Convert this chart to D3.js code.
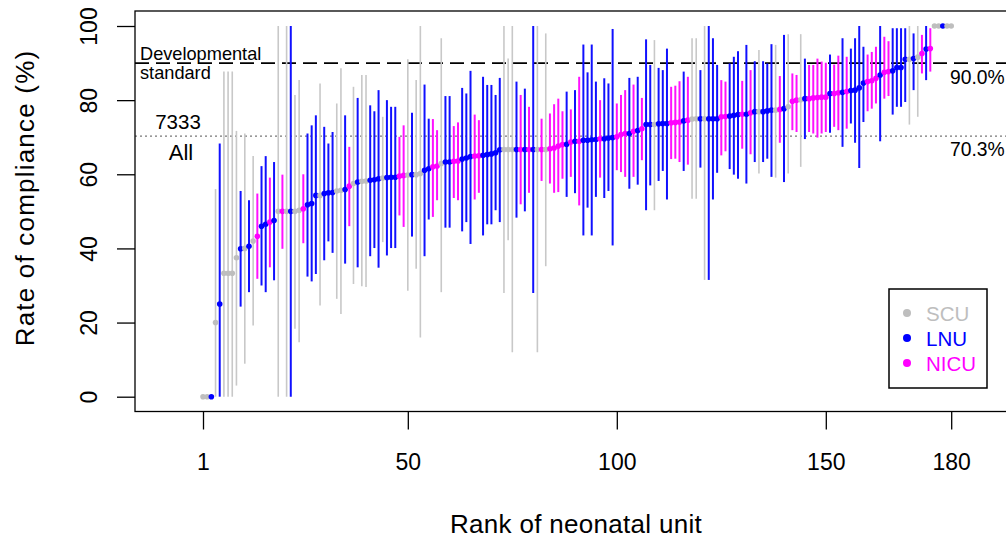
<!DOCTYPE html>
<html><head><meta charset="utf-8">
<script src="https://cdn.jsdelivr.net/npm/d3@7"></script>
<style>
html,body{margin:0;padding:0;background:#fff;}
svg{display:block;font-family:"Liberation Sans",Arial,Helvetica,sans-serif;}
</style></head>
<body>
<svg id="chart" width="1006" height="540"></svg>
<script>
// Unit type per rank: S = SCU, L = LNU, N = NICU
const unitType = ["S","S","L","S","L","S","S","S","S","L",
"S","L","S","N","L","L","N","L","S","N",
"S","L","S","S","N","L","L","L","S","L",
"L","L","S","S","L","N","S","L","S","S",
"L","L","L","S","L","L","L","N","N","S",
"L","S","S","L","L","N","N","S","L","L",
"N","N","L","L","L","N","N","L","L","L",
"L","L","S","S","S","L","N","L","N","L",
"S","N","S","N","N","N","N","L","N","L",
"N","L","L","L","L","N","L","L","L","N",
"N","N","L","N","L","N","L","L","S","L",
"L","L","N","N","N","L","N","S","S","L",
"S","L","L","L","N","N","L","L","L","N",
"L","N","L","S","L","L","L","S","N","L",
"S","N","N","S","L","N","N","N","N","N",
"L","N","N","L","N","L","L","L","L","N",
"N","N","L","N","N","L","L","L","L","S",
"L","S","N","L","N","S","S","L","S","S"];

// Rate of compliance (%) per rank
const rate = [0,0,0,20,25,33.3,33.3,33.3,37.5,39.9,
40,40.6,42,43.3,46,46.5,47.1,47.5,50,50,
50,50,50,50.3,50.7,51.8,52.1,54.3,54.3,54.8,
55,55.1,55.5,55.7,55.9,56.8,57.5,57.9,58.1,58.2,
58.4,58.5,58.8,59,59.1,59.2,59.2,59.5,59.7,59.8,
59.9,59.9,60.2,61.1,61.5,62,62.2,62.9,63.3,63.3,
63.5,63.6,64.1,64.4,64.8,64.9,65,65.1,65.3,65.5,
65.8,66.6,66.7,66.7,66.7,66.7,66.7,66.7,66.7,66.7,
66.7,66.7,66.7,66.9,67.1,67.6,68,68.1,68.7,68.9,
68.9,69.2,69.2,69.3,69.4,69.6,69.6,69.8,69.9,70.1,
70.7,71,71,71.6,71.8,72.3,73.4,73.4,73.4,73.6,
73.7,73.7,73.9,74,74.1,74.4,74.6,74.9,75,75,
75,75,75,75,75.5,75.6,75.7,75.9,76.1,76.2,
76.2,76.6,76.9,76.9,76.9,77.1,77.3,77.3,77.5,77.7,
78.2,79.7,80,80.1,80.4,80.4,80.6,80.7,80.8,80.8,
81.8,81.8,82,82.1,82.3,82.6,82.7,83.3,84.6,85,
85.2,85.9,86.8,87.5,87.7,87.9,88.8,88.8,91,91,
91.2,91.6,92.6,93.8,93.9,100,100,100,100,100];

// Lower confidence limit (%) per rank (null = not drawn)
const lower = [null,null,null,0,0,0,0,0,3,24.3,
8.9,28.2,19.2,31.8,30,28.2,34.9,31.4,0,39.9,
0,0,18.3,14.7,41.4,32.4,31.1,33.1,24.6,36.8,
41.9,38.8,26.4,22.3,35.9,46,30.4,34.9,29.8,29.6,
37.9,40.1,34.8,41.7,38.1,40.1,40.1,48.9,45.8,28.6,
43.2,34.5,16,37.9,47.8,48.5,53,28.2,45.6,45.6,
53.6,53,44.6,47.1,41.2,53.2,55,43.5,46.5,46.5,
50.3,47.1,28,42.2,12,48.3,51.9,50,55,28,
12,58.2,35.2,57.5,55,55.2,58.8,53.9,59.3,54.9,
51.6,43.5,51,43.5,53.9,59.1,53.6,55.5,40.8,61.1,
60.6,59.3,56.1,59.3,57.2,63.8,50.3,57,50.3,58.2,
60.9,53.2,64.1,64.2,63.3,60.9,62.6,53.4,53.4,61.8,
31.5,31.5,53.2,60.4,65.1,66.2,61.4,59.9,58.8,66.9,
57.5,65.4,63.3,60.2,63.3,64.2,59.3,59.1,68.5,57.9,
60.2,71.9,71.4,62,69.5,71.4,71,69.9,71,71.4,
71.2,72.8,71.9,67.4,72.3,73.7,68.5,61.7,74.1,77,
77.7,79.1,68.9,80.4,81.1,76.1,78.2,78.2,79.5,73.4,
82.7,75.5,87.2,85.4,87.7,null,null,null,null,null];

// Upper confidence limit (%) per rank (null = not drawn)
const upper = [null,null,null,56,68.3,87.7,87.7,87.7,71.7,55.5,
71,53,64.9,54.8,62.2,64.9,59.1,63.3,100,59.9,
100,100,81.4,85.4,60,71,73.2,75.9,84.5,72.8,
68.3,71.4,79.1,88.6,75.9,67.4,83.6,80.6,86.8,86.8,
78.6,77,82.7,75.5,80,78.2,78.2,70.1,73.2,91,
76.6,85.4,100,84.2,75,74.9,71.9,96.7,81.1,81.1,
73,74,83.3,81.8,87.9,76.1,74.6,86.3,84.1,84.1,
81.4,86,100,91.2,100,85,81.4,83.1,78.2,100,
100,75,98,76.4,78.9,80.4,77,82.3,77.5,82.7,
86.3,95,87.5,95,85,80,85.9,84.5,99.2,79.1,
81.4,82.7,86,84.2,86.3,80.6,96.4,89.5,96.2,88.7,
88.1,93.9,83.6,83.9,85.1,87.7,86.3,96.7,96.7,88.1,
100,100,96.7,89.5,85.4,85,89.9,91.7,93.2,85.2,
94.9,88.1,90.5,93.5,90.5,89.9,95.1,94.9,86.5,97.6,
97.8,87.2,86.8,97.8,91.2,89.5,89.5,91.2,90.4,90.1,
92.3,89.6,92,96.7,91.7,93.9,96.7,100,94.4,92.3,
93,94.4,100,97.1,95.9,99.4,99.4,99.4,99.4,100,
98,100,97.6,100,99.4,null,null,null,null,null];

const categories = ["SCU","LNU","NICU"];
const categoryCode = {S:"SCU", L:"LNU", N:"NICU"};
const xTicks = [1,50,100,150,180];
const yTicks = [0,20,40,60,80,100];
const standardValue = 90.0;
const overallValue = 70.3;
const overallCount = "7333";

const dotColor = {SCU:"#bebebe", LNU:"#0000ff", NICU:"#ff00ff"};
const lineColor = {SCU:"#c8c8c8", LNU:"#1010ff", NICU:"#ff10ff"};

const units = rate.map((v,i)=>({rank:i+1, type:categoryCode[unitType[i]], v, lo:lower[i], hi:upper[i]}));

const svg = d3.select("#chart");
svg.append("rect").attr("width",1006).attr("height",540).attr("fill","#fff");

const x = d3.scaleLinear().domain([1,180]).range([203,951.2]);
const y = d3.scaleLinear().domain([0,100]).range([396.7,26]);
const boxL = 135, boxT = 11, boxB = 411.5, boxR = 1040;

// reference lines
svg.append("line").attr("x1",boxL).attr("x2",boxR)
  .attr("y1",y(standardValue)).attr("y2",y(standardValue))
  .attr("stroke","#000").attr("stroke-width",1.8).attr("stroke-dasharray","14 7");
svg.append("line").attr("x1",boxL).attr("x2",boxR)
  .attr("y1",y(overallValue)).attr("y2",y(overallValue))
  .attr("stroke","#555").attr("stroke-width",1).attr("stroke-dasharray","2 3");

// CIs
const g = svg.append("g");
g.selectAll("line.ci").data(units.filter(d=>d.lo!==null)).enter().append("line")
  .attr("class","ci")
  .attr("x1",d=>x(d.rank)).attr("x2",d=>x(d.rank))
  .attr("y1",d=>y(d.lo)).attr("y2",d=>y(d.hi))
  .attr("stroke",d=>lineColor[d.type])
  .attr("stroke-width",d=>d.type==="SCU"?1.6:2);

// points
g.selectAll("circle.pt").data(units).enter().append("circle")
  .attr("class","pt")
  .attr("cx",d=>x(d.rank)).attr("cy",d=>y(d.v)).attr("r",2.8)
  .attr("fill",d=>dotColor[d.type]);

// box
svg.append("rect").attr("x",boxL).attr("y",boxT).attr("width",boxR-boxL).attr("height",boxB-boxT)
  .attr("fill","none").attr("stroke","#000").attr("stroke-width",1.3);

// x axis
const xAxis = d3.axisBottom(x).tickValues(xTicks).tickSize(18).tickPadding(24).tickFormat(d3.format("d"));
const xg = svg.append("g").attr("transform",`translate(0,${boxB})`).call(xAxis);
xg.select(".domain").remove();
xg.selectAll("line").attr("stroke","#000").attr("stroke-width",1.3);
xg.selectAll("text").attr("font-size",23).attr("fill","#000").attr("font-family","Liberation Sans, Arial, sans-serif");

// y axis
const yAxis = d3.axisLeft(y).tickValues(yTicks).tickSize(18).tickPadding(0);
const yg = svg.append("g").attr("transform",`translate(${boxL},0)`).call(yAxis);
yg.select(".domain").remove();
yg.selectAll("line").attr("stroke","#000").attr("stroke-width",1.3);
yg.selectAll("text")
  .attr("font-size",23).attr("fill","#000").attr("font-family","Liberation Sans, Arial, sans-serif")
  .attr("text-anchor","middle").attr("dy",null).attr("x",0).attr("y",0)
  .attr("transform","translate(-38,0) rotate(-90)");

// axis titles
svg.append("text").attr("x",576).attr("y",533).attr("text-anchor","middle")
  .attr("font-size",26).attr("letter-spacing",0.3).text("Rank of neonatal unit");
svg.append("text").attr("transform","translate(34,198) rotate(-90)").attr("text-anchor","middle")
  .attr("font-size",26).attr("letter-spacing",1.2).text("Rate of compliance (%)");

// annotations
svg.append("text").attr("x",140).attr("y",60).attr("font-size",18.2).text("Developmental");
svg.append("text").attr("x",140).attr("y",79).attr("font-size",18.2).text("standard");
svg.append("text").attr("x",178).attr("y",129).attr("text-anchor","middle").attr("font-size",20.5).text(overallCount);
svg.append("text").attr("x",181).attr("y",160).attr("text-anchor","middle").attr("font-size",22).text("All");
svg.append("text").attr("x",950).attr("y",84).attr("font-size",19.3).text(standardValue.toFixed(1)+"%");
svg.append("text").attr("x",950).attr("y",156).attr("font-size",19.3).text(overallValue.toFixed(1)+"%");

// legend
const lg = svg.append("g");
lg.append("rect").attr("x",889).attr("y",289).attr("width",98).attr("height",99)
  .attr("fill","#fff").attr("stroke","#000").attr("stroke-width",1.5);
categories.forEach((c,i)=>{
  const cy = 313 + i*25;
  lg.append("circle").attr("cx",907).attr("cy",cy).attr("r",4).attr("fill",dotColor[c]);
  lg.append("text").attr("x",926).attr("y",cy+8).attr("font-size",20.5).attr("fill",dotColor[c]).text(c);
});
</script>
</body></html>
